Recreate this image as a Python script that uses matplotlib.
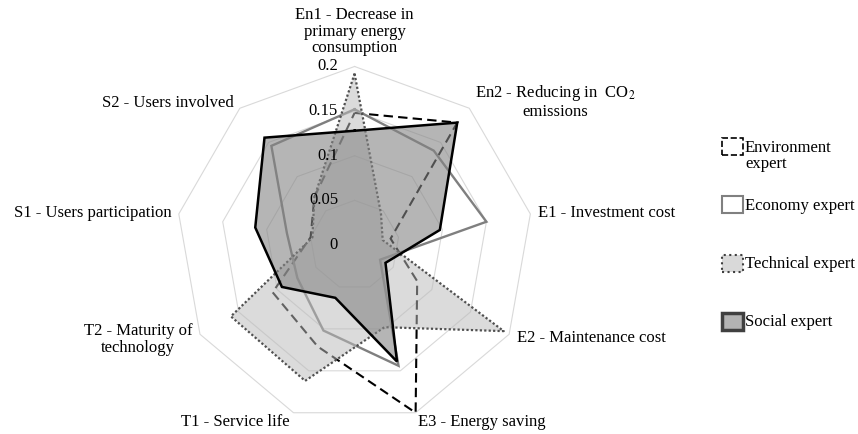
import numpy as np
import matplotlib.pyplot as plt
from matplotlib.patches import Rectangle

plt.rcParams['font.family'] = 'Liberation Serif'
plt.rcParams['font.size'] = 12
plt.rcParams['mathtext.fontset'] = 'stix'

# criteria (clockwise from the top)
categories = ['En1 - Decrease in\nprimary energy\nconsumption',
              'En2 - Reducing in  CO$_2$\nemissions',
              'E1 - Investment cost',
              'E2 - Maintenance cost',
              'E3 - Energy saving',
              'T1 - Service life',
              'T2 - Maturity of\ntechnology',
              'S1 - Users participation',
              'S2 - Users involved']

# weights given by each expert
environment = [0.148, 0.179, 0.041, 0.081, 0.200, 0.121, 0.106, 0.050, 0.070]
economy = [0.152, 0.138, 0.150, 0.033, 0.144, 0.102, 0.074, 0.077, 0.145]
technical = [0.192, 0.046, 0.032, 0.193, 0.098, 0.162, 0.160, 0.048, 0.070]
social = [0.128, 0.179, 0.097, 0.040, 0.139, 0.063, 0.094, 0.113, 0.157]

levels = [0, 0.05, 0.1, 0.15, 0.2]
level_labels = ['0', '0.05', '0.1', '0.15', '0.2']
experts = ['Environment\nexpert', 'Economy expert', 'Technical expert', 'Social expert']

angles = np.linspace(0, 2 * np.pi, len(categories), endpoint=False)
closed = np.append(angles, angles[0])


def close(v):
    return np.append(v, v[0])


W, H = 858, 434
fig = plt.figure(figsize=(W / 100, H / 100), dpi=100)
ax = fig.add_axes([0.2052, 0.0242, 0.4161, 0.8226], projection='polar')
ax.set_theta_offset(np.pi / 2)
ax.set_theta_direction(-1)
ax.set_ylim(0, 0.2)
ax.set_xticks([])
ax.set_yticks([])
ax.grid(False)
ax.spines['polar'].set_visible(False)

# nonagon grid
for lv in levels[1:]:
    ax.plot(closed, [lv] * len(closed), color='#d9d9d9', lw=0.8, zorder=1, clip_on=False)

ax.plot(closed, close(environment), color='black', lw=1.5, linestyle=(0, (4.5, 2.5)),
        zorder=2, clip_on=False, solid_joinstyle='miter', dash_joinstyle='miter')
ax.plot(closed, close(economy), color='#7f7f7f', lw=1.7, zorder=3, clip_on=False,
        solid_joinstyle='miter')
ax.fill(closed, close(technical), color='#bbbbbb', alpha=0.53, lw=0, zorder=4)
ax.plot(closed, close(technical), color='#505050', lw=1.6, linestyle=(0, (1, 1)),
        zorder=5, clip_on=False)
ax.fill(closed, close(social), color='#858585', alpha=0.6, lw=0, zorder=6)
ax.plot(closed, close(social), color='black', lw=1.8, zorder=7, clip_on=False,
        solid_joinstyle='miter')

# category labels: offset (points), ha, va
label_pos = [(0, 7.5, 'center', 'bottom'),
             (61.7, 4.9, 'center', 'center'),
             (5.5, 0.7, 'left', 'center'),
             (5.8, -2.7, 'left', 'center'),
             (1.8, -6.7, 'left', 'center'),
             (-2.5, -6.7, 'right', 'center'),
             (-44.6, -3.7, 'center', 'center'),
             (-5.5, 0.7, 'right', 'center'),
             (-4.2, 3.8, 'right', 'center')]
for ang, lab, (dx, dy, ha, va) in zip(angles, categories, label_pos):
    ax.annotate(lab, xy=(ang, 0.2), xytext=(dx, dy), textcoords='offset points',
                ha=ha, va=va, multialignment='center', linespacing=1.03,
                annotation_clip=False, zorder=10)

for lv, t in zip(levels, level_labels):
    ax.annotate(t, xy=(0, lv), xytext=(-11.9, 0), textcoords='offset points',
                ha='right', va='center', zorder=10, annotation_clip=False)

# legend drawn by hand so the boxes line up like the original
legend_styles = [dict(fc='white', ec='black', ls='--', lw=1.2),
                 dict(fc='white', ec='#808080', ls='-', lw=1.5),
                 dict(fc='#d9d9d9', ec='#404040', ls=':', lw=1.5),
                 dict(fc='#b3b3b3', ec='#404040', ls='-', lw=2.5)]
for i, (name, st) in enumerate(zip(experts, legend_styles)):
    top = 138 + 58.3 * i
    fig.add_artist(Rectangle((722 / W, 1 - (top + 17) / H), 21 / W, 17 / H,
                             transform=fig.transFigure, **st))
    if '\n' in name:
        fig.text(745 / W, 1 - (top + 2) / H, name, ha='left', va='top', linespacing=1.0)
    else:
        fig.text(745 / W, 1 - (top + 9.5) / H, name, ha='left', va='center')

fig.savefig('out.png', dpi=100)
